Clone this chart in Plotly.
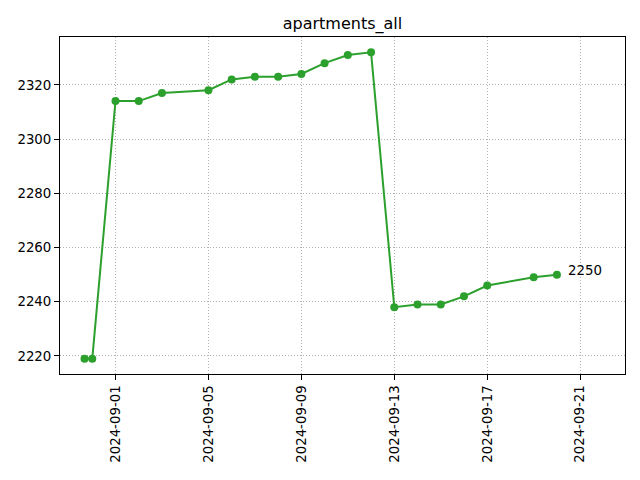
import plotly.graph_objects as go

dates = ["2024-08-30 16:00", "2024-08-31 00:00", "2024-09-01", "2024-09-02", "2024-09-03",
         "2024-09-05", "2024-09-06", "2024-09-07", "2024-09-08", "2024-09-09",
         "2024-09-10", "2024-09-11", "2024-09-12", "2024-09-13", "2024-09-14",
         "2024-09-15", "2024-09-16", "2024-09-17", "2024-09-19", "2024-09-20"]
values = [2219, 2219, 2314, 2314, 2317, 2318, 2322, 2323, 2323, 2324,
          2328, 2331, 2332, 2238, 2239, 2239, 2242, 2246, 2249, 2250]
x_ticks = ["2024-09-01", "2024-09-05", "2024-09-09", "2024-09-13", "2024-09-17", "2024-09-21"]
y_ticks = [2220, 2240, 2260, 2280, 2300, 2320]
title = "apartments_all"

green = "#2ca02c"
font = "DejaVu Sans"

fig = go.Figure()
fig.add_trace(go.Scatter(
    x=dates, y=values, mode="lines+markers",
    line=dict(color=green, width=2),
    marker=dict(color=green, size=8),
    showlegend=False,
))

fig.add_annotation(
    x=dates[-1], y=values[-1], text=str(values[-1]),
    showarrow=False, xanchor="left", yanchor="middle",
    xshift=9, yshift=4,
    font=dict(family=font, size=13.33, color="black"),
)

axis_common = dict(
    showline=True, linecolor="black", linewidth=1, mirror=True,
    ticks="outside", ticklen=5, tickwidth=1, tickcolor="black",
    showgrid=True, gridcolor="#b0b0b0", gridwidth=1, griddash="1px,2px",
    zeroline=False,
    tickfont=dict(family=font, size=13.33, color="black"),
)

fig.update_layout(
    width=640, height=480,
    margin=dict(l=60, r=15, t=37, b=106),
    paper_bgcolor="white", plot_bgcolor="white",
    title=dict(text=title, x=0.5, xref="paper", xanchor="center",
               y=1 - 23 / 480, yref="container", yanchor="middle",
               font=dict(family=font, size=16, color="black")),
    xaxis=dict(axis_common, type="date",
               range=["2024-08-29 14:40", "2024-09-22 22:20"],
               tickmode="array", tickvals=x_ticks, ticktext=x_ticks,
               tickangle=-90),
    yaxis=dict(axis_common, range=[2213.35, 2337.65],
               tickmode="array", tickvals=y_ticks,
               ticktext=[str(v) for v in y_ticks]),
)

fig.write_html("out.html")
